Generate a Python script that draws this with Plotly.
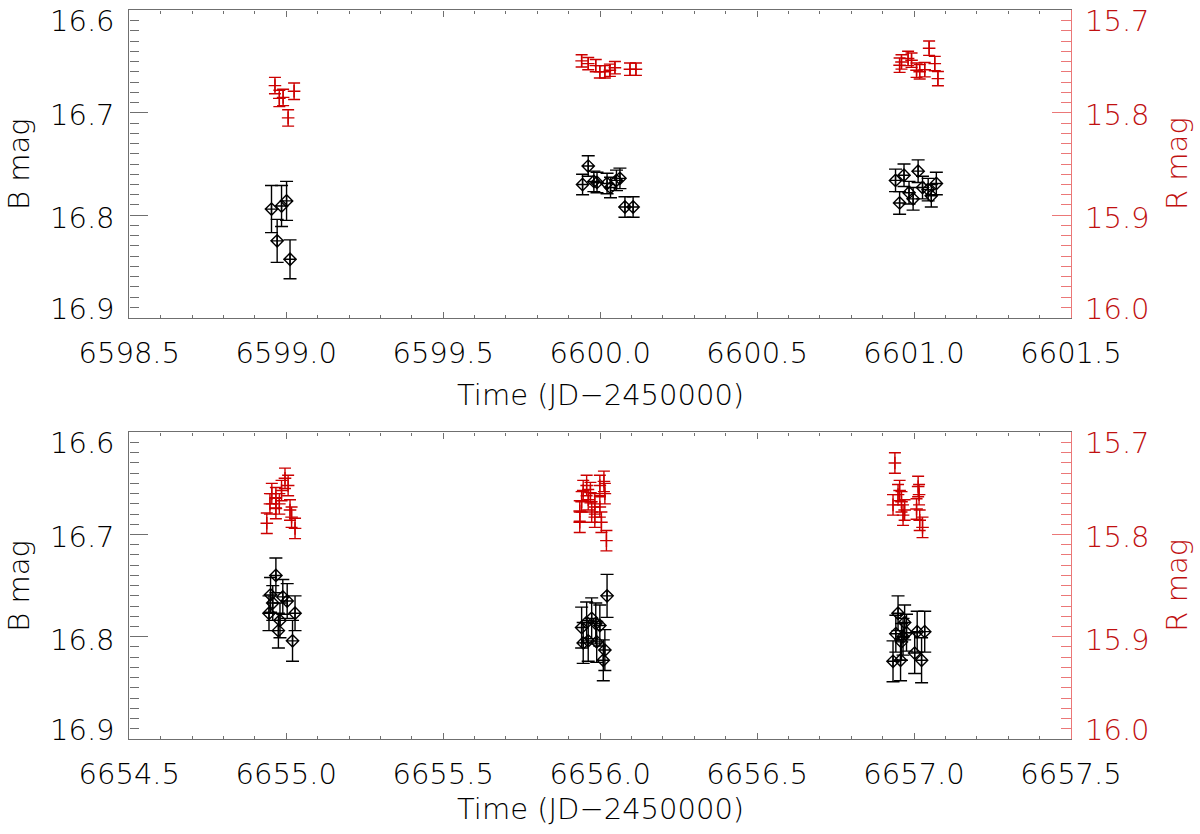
import plotly.graph_objects as go

# ---------------- data ----------------
# Top panel (JD-2450000 ~ 6599-6601)
top_t_B = [6598.953, 6598.985, 6599.001, 6598.971, 6599.012,
           6599.944, 6599.962, 6599.980, 6599.990, 6600.022, 6600.033, 6600.052, 6600.063, 6600.079, 6600.105,
           6600.941, 6600.954, 6600.968, 6600.984, 6600.997, 6601.013, 6601.027, 6601.045, 6601.055, 6601.071]
top_B = [16.794, 16.791, 16.786, 16.825, 16.843,
         16.770, 16.752, 16.767, 16.768, 16.769, 16.773, 16.766, 16.764, 16.792, 16.792,
         16.766, 16.788, 16.761, 16.778, 16.784, 16.757, 16.773, 16.775, 16.781, 16.769]
top_eB = [0.023, 0.020, 0.019, 0.021, 0.019,
          0.010, 0.010, 0.010, 0.010, 0.010, 0.010, 0.010, 0.010, 0.010, 0.010,
          0.011, 0.011, 0.011, 0.011, 0.011, 0.011, 0.011, 0.011, 0.011, 0.011]

top_t_R = [6598.964, 6598.978, 6598.990, 6599.006, 6599.025,
           6599.941, 6599.962, 6599.986, 6599.999, 6600.015, 6600.031, 6600.047, 6600.095, 6600.114,
           6600.954, 6600.960, 6600.981, 6600.992, 6601.008, 6601.018, 6601.034, 6601.048, 6601.066, 6601.076]
top_R = [15.7735, 15.786, 15.785, 15.805, 15.779,
         15.7494, 15.752, 15.754, 15.760, 15.760, 15.7585, 15.756, 15.7575, 15.7575,
         15.7536, 15.7504, 15.747, 15.7487, 15.7585, 15.760, 15.758, 15.737, 15.752, 15.7667]
top_eR = [0.008, 0.008, 0.008, 0.008, 0.008,
          0.006, 0.006, 0.006, 0.006, 0.006, 0.006, 0.006, 0.006, 0.006,
          0.007, 0.007, 0.007, 0.007, 0.007, 0.007, 0.007, 0.007, 0.007, 0.007]

# Bottom panel (JD-2450000 ~ 6655-6657)
bot_t_B = [6654.967, 6654.950, 6654.957, 6654.945, 6654.989, 6655.003, 6655.028, 6654.980, 6654.975, 6655.020,
           6656.022, 6655.941, 6655.957, 6655.973, 6655.986, 6655.999, 6655.946, 6655.962, 6655.989, 6656.015, 6656.010,
           6656.949, 6656.970, 6656.942, 6656.965, 6656.976, 6656.960, 6657.010, 6657.034, 6656.933, 6656.957, 6657.002, 6657.024]
bot_B = [16.740, 16.759, 16.767, 16.777, 16.761, 16.765, 16.777, 16.784, 16.794, 16.804,
         16.760, 16.791, 16.786, 16.782, 16.787, 16.789, 16.806, 16.804, 16.805, 16.813, 16.823,
         16.777, 16.786, 16.797, 16.800, 16.796, 16.805, 16.795, 16.795, 16.824, 16.823, 16.816, 16.823]
bot_eB = [0.017, 0.017, 0.017, 0.017, 0.017, 0.017, 0.017, 0.017, 0.017, 0.020,
          0.021, 0.020, 0.020, 0.020, 0.020, 0.020, 0.020, 0.020, 0.020, 0.020, 0.020,
          0.017, 0.017, 0.018, 0.018, 0.018, 0.018, 0.020, 0.020, 0.020, 0.020, 0.020, 0.022]

bot_t_R = [6654.996, 6655.006, 6654.985, 6654.954, 6654.967, 6654.948, 6654.978, 6654.967, 6655.012, 6655.017, 6654.938, 6655.028,
           6655.957, 6655.946, 6655.969, 6655.999, 6656.012, 6656.015, 6655.941, 6655.962, 6655.983, 6655.999, 6655.935,
           6655.973, 6655.983, 6655.935, 6656.004, 6656.020,
           6656.939, 6656.954, 6656.949, 6656.933, 6656.960, 6656.970, 6656.965, 6657.013, 6657.016, 6657.008, 6657.018, 6657.027]
bot_R = [15.745, 15.752, 15.757, 15.760, 15.764, 15.770, 15.770, 15.7745, 15.776, 15.783, 15.789, 15.794,
         15.752, 15.757, 15.759, 15.752, 15.748, 15.760, 15.768, 15.766, 15.770, 15.773, 15.777,
         15.778, 15.783, 15.788, 15.788, 15.806,
         15.730, 15.757, 15.761, 15.771, 15.768, 15.776, 15.781, 15.753, 15.761, 15.775, 15.786, 15.793]
bot_eR = [0.010] * 12 + [0.010] * 16 + [0.010] * 12

top_xticks = [6598.5, 6599.0, 6599.5, 6600.0, 6600.5, 6601.0, 6601.5]
bot_xticks = [6654.5, 6655.0, 6655.5, 6656.0, 6656.5, 6657.0, 6657.5]
B_ticks = [16.6, 16.7, 16.8, 16.9]
R_ticks = [15.7, 15.8, 15.9, 16.0]

# ---------------- style ----------------
FONT = "DejaVu Sans"
FW = 200
FS = 29
BLACK = "#000000"
RED = "#cc0000"
RED_TXT = "#c01010"
RED_AX = "rgb(235,120,120)"
GRAY = "#6f6f6f"

XL, XR = 129.3, 1071.0
W, H = 1200, 834
panels = [(10.3, 317.7), (432.3, 739.0)]
title_gap = [77, 70]


def ydom(top, bot):
    return [1 - bot / H, 1 - top / H]


def tfont(color=BLACK):
    return dict(family=FONT, size=FS, color=color, weight=FW)


fig = go.Figure()


def add_panel(xa, ya_b, ya_r, tB, B, eB, tR, R, eR):
    fig.add_trace(go.Scatter(
        x=tB, y=B, mode="markers", xaxis=xa, yaxis=ya_b, showlegend=False,
        marker=dict(symbol="diamond-cross-open", size=9.5, color=BLACK, line=dict(width=1.4, color=BLACK)),
        error_y=dict(type="data", array=eB, visible=True, color=BLACK, thickness=1.4, width=6.5)))
    fig.add_trace(go.Scatter(
        x=tR, y=R, mode="markers", xaxis=xa, yaxis=ya_r, showlegend=False,
        marker=dict(symbol="cross-thin-open", size=9, color=RED, line=dict(width=1.4, color=RED)),
        error_y=dict(type="data", array=eR, visible=True, color=RED, thickness=1.4, width=6)))


add_panel("x", "y", "y2", top_t_B, top_B, top_eB, top_t_R, top_R, top_eR)
add_panel("x2", "y3", "y4", bot_t_B, bot_B, bot_eB, bot_t_R, bot_R, bot_eR)


def xaxis_cfg(ticks, anchor):
    return dict(domain=[XL / W, XR / W], anchor=anchor, range=[ticks[0], ticks[-1]], automargin=False,
                tickmode="array", tickvals=ticks, ticktext=[f"{v:.1f}" for v in ticks],
                ticks="inside", ticklen=6, tickwidth=1.2, tickcolor=GRAY,
                minor=dict(tick0=ticks[0], dtick=0.1, ticks="inside", ticklen=3, tickwidth=1.2, tickcolor=GRAY),
                showline=True, linecolor=GRAY, linewidth=1.4, mirror="ticks",
                showgrid=False, zeroline=False, ticklabelstandoff=9,
                tickfont=tfont())


def ybaxis_cfg(dom, anchor):
    return dict(domain=dom, anchor=anchor, range=[16.9, 16.6], tickmode="array", tickvals=B_ticks,
                automargin=False,
                showticklabels=False, ticks="inside", ticklen=18.8, tickwidth=1.2, tickcolor=GRAY,
                minor=dict(tick0=16.6, dtick=0.01, ticks="inside", ticklen=9.4, tickwidth=1.2, tickcolor=GRAY),
                showline=True, linecolor=GRAY, linewidth=1.4, showgrid=False, zeroline=False)


def yraxis_cfg(over, anchor):
    return dict(overlaying=over, anchor=anchor, side="right", range=[16.0, 15.7], tickmode="array",
                automargin=False,
                tickvals=R_ticks, showticklabels=False, ticks="inside", ticklen=18.8, tickwidth=1.2,
                tickcolor=RED_AX,
                minor=dict(tick0=15.7, dtick=0.01, ticks="inside", ticklen=9.4, tickwidth=1.2, tickcolor=RED_AX),
                showline=True, linecolor=RED_AX, linewidth=1.4, showgrid=False, zeroline=False)


fig.update_layout(
    template="none",
    width=W, height=H, margin=dict(l=0, r=0, t=0, b=0, pad=0, autoexpand=False),
    paper_bgcolor="white", plot_bgcolor="white",
    font=tfont(),
    xaxis=xaxis_cfg(top_xticks, "y"),
    xaxis2=xaxis_cfg(bot_xticks, "y3"),
    yaxis=ybaxis_cfg(ydom(*panels[0]), "x"),
    yaxis2=yraxis_cfg("y", "x"),
    yaxis3=ybaxis_cfg(ydom(*panels[1]), "x2"),
    yaxis4=yraxis_cfg("y3", "x2"),
)

# tick-label shifts (pixels, positive = up) mimicking the reference placement
shifts = [-11, -2, -3, 9]
ann = []
for (top, bot), yb, yr, gap in [(panels[0], "y", "y2", title_gap[0]), (panels[1], "y3", "y4", title_gap[1])]:
    for v, s in zip(B_ticks, shifts):
        ann.append(dict(x=117 / W, xref="paper", y=v, yref=yb, text=f"{v:.1f}", showarrow=False,
                        xanchor="right", yanchor="middle", yshift=s, font=tfont()))
    for v, s in zip(R_ticks, shifts):
        ann.append(dict(x=1083 / W, xref="paper", y=v, yref=yr, text=f"{v:.1f}", showarrow=False,
                        xanchor="left", yanchor="middle", yshift=s, font=tfont(RED_TXT)))
    mid = (top + bot) / 2
    ann.append(dict(x=19 / W, xref="paper", y=1 - mid / H, yref="paper", text="B mag", textangle=-90,
                    showarrow=False, xanchor="center", yanchor="middle", font=tfont()))
    ann.append(dict(x=1177 / W, xref="paper", y=1 - mid / H, yref="paper", text="R mag", textangle=-90,
                    showarrow=False, xanchor="center", yanchor="middle", font=tfont(RED_TXT)))
    ann.append(dict(x=(XL + XR) / 2 / W, xref="paper", y=1 - (bot + gap) / H, yref="paper",
                    text="Time (JD\u22122450000)", showarrow=False, xanchor="center", yanchor="middle",
                    font=tfont()))

fig.update_layout(annotations=ann)
fig.write_html("out.html", config={"displayModeBar": False},
               post_script="document.body.style.margin='0';document.body.style.padding='0';"
                           "document.documentElement.style.overflow='hidden';")
